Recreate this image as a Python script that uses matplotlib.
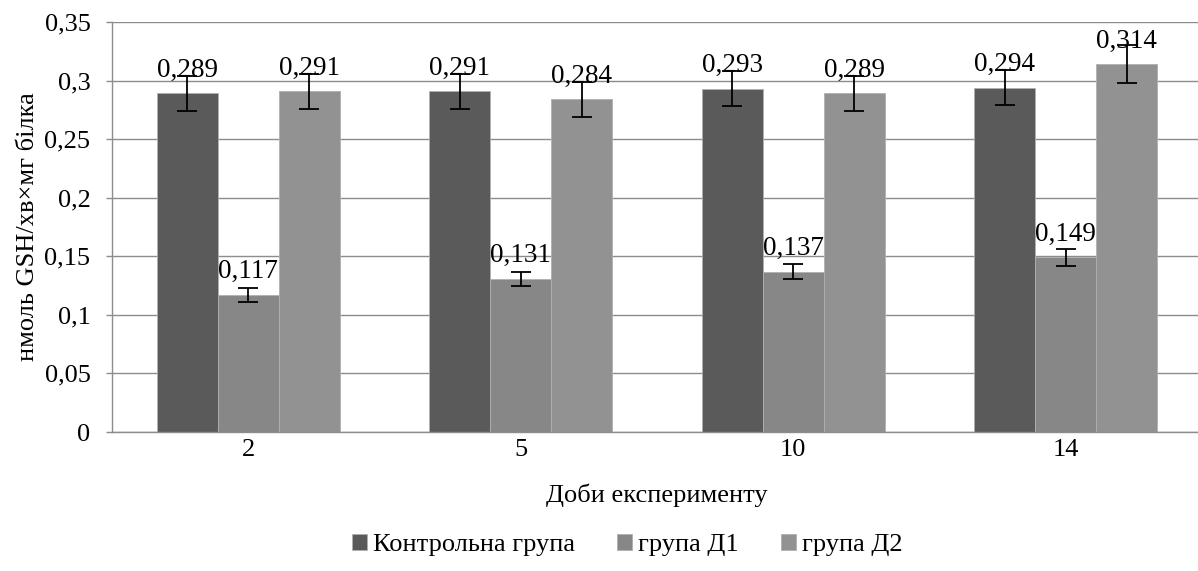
import matplotlib.pyplot as plt
import numpy as np

plt.rcParams['font.family'] = ['Liberation Serif', 'DejaVu Serif']

days = ['2', '5', '10', '14']
series = ['Контрольна група', 'група Д1', 'група Д2']
control = [0.289, 0.291, 0.293, 0.294]
d1 = [0.117, 0.131, 0.137, 0.149]
d2 = [0.291, 0.284, 0.289, 0.314]
err_control = [0.015, 0.015, 0.015, 0.015]
err_d1 = [0.006, 0.006, 0.006, 0.007]
err_d2 = [0.015, 0.015, 0.015, 0.016]
colors = ['#5a5a5a', '#878787', '#929292']

fig = plt.figure(figsize=(11.98, 5.71), dpi=100)
ax = fig.add_axes([0.0935, 0.2434, 0.9098, 0.7181])

x = np.arange(len(days))
w = 0.224
values = [control, d1, d2]
errors = [err_control, err_d1, err_d2]
for i, (vals, errs) in enumerate(zip(values, errors)):
    pos = x + (i - 1) * w
    ax.bar(pos, vals, width=w, color=colors[i], edgecolor='#b0b0b0', linewidth=0.6,
           label=series[i], zorder=2)
    ax.errorbar(pos, vals, yerr=errs, fmt='none', ecolor='black', elinewidth=1.3,
                capsize=7, capthick=1.3, zorder=3)
    for p, v in zip(pos, vals):
        ax.text(p, v + 0.0142, f'{v:.3f}'.replace('.', ','), ha='center', va='baseline',
                fontsize=19.5, zorder=4)

ax.set_xlim(-0.5, 3.5)
ax.set_ylim(0, 0.35)
yt = np.arange(0, 0.351, 0.05)
ax.set_yticks(yt)
ax.set_yticklabels(['0', '0,05', '0,1', '0,15', '0,2', '0,25', '0,3', '0,35'], fontsize=19)
ax.set_xticks(x)
ax.set_xticklabels(days, fontsize=19)
ax.tick_params(axis='x', length=0, pad=5)
ax.tick_params(axis='y', length=4.5, color='#8c8c8c', width=1, pad=11)
ax.yaxis.grid(True, color='#8c8c8c', linewidth=1, zorder=0)
ax.set_axisbelow(True)
for s in ['top', 'right']:
    ax.spines[s].set_visible(False)
ax.spines['left'].set_color('#8c8c8c')
ax.spines['bottom'].set_color('#8c8c8c')
ax.spines['left'].set_linewidth(1)
ax.spines['bottom'].set_linewidth(1)

ax.set_xlabel('Доби експерименту', fontsize=19, labelpad=16)
ax.set_ylabel('нмоль GSH/хв×мг білка', fontsize=19, labelpad=4)

ax.legend(loc='center', bbox_to_anchor=(0.473, -0.275), ncol=3, frameon=False,
          fontsize=19, handlelength=0.55, handleheight=0.55, handletextpad=0.25,
          columnspacing=1.6)

fig.savefig('out.png', dpi=100)
